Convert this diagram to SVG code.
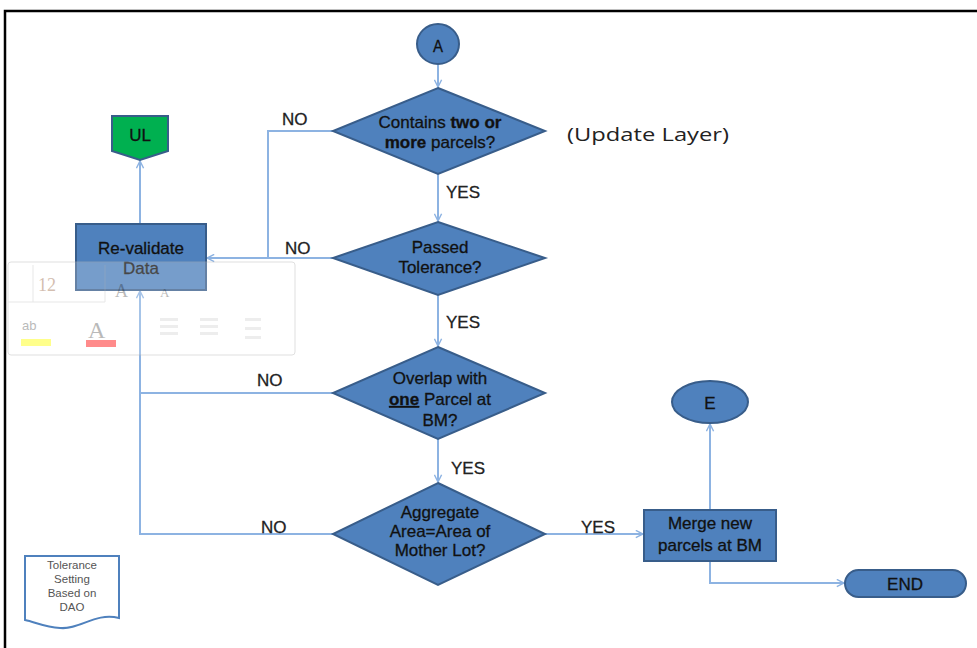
<svg xmlns="http://www.w3.org/2000/svg" width="977" height="648" viewBox="0 0 977 648">
<defs>
<marker id="arr" viewBox="0 0 10 10" refX="9" refY="5" markerWidth="9" markerHeight="9" markerUnits="userSpaceOnUse" orient="auto">
<path d="M1,1 L9,5 L1,9" fill="none" stroke="#8db3e2" stroke-width="1.6"/>
</marker>
<style>
.shape{fill:#4f81bd;stroke:#385d8a;stroke-width:2}
.t{font-family:"Liberation Sans",Arial,sans-serif;font-size:17px;fill:#111;stroke:#111;stroke-width:0.3;text-anchor:middle}
.lbl{font-family:"Liberation Sans",Arial,sans-serif;font-size:17px;fill:#222;stroke:#222;stroke-width:0.3}
.con{fill:none;stroke:#8db3e2;stroke-width:2}
.tb{fill:#d8d8d8}
.n{font-family:"Liberation Sans",Arial,sans-serif;font-size:11.5px;fill:#555;text-anchor:middle}
</style>
</defs>
<rect width="977" height="648" fill="#fff"/>
<path d="M5,648 V11 H977" fill="none" stroke="#000" stroke-width="2.5"/>

<g id="connectors">
<path class="con" d="M438,65 V87" marker-end="url(#arr)"/>
<path class="con" d="M438,174 V221" marker-end="url(#arr)"/>
<path class="con" d="M438,295 V346" marker-end="url(#arr)"/>
<path class="con" d="M438,439 V482" marker-end="url(#arr)"/>
<path class="con" d="M333,131 H268 V258"/>
<path class="con" d="M333,258 H207" marker-end="url(#arr)"/>
<path class="con" d="M140,223 V161" marker-end="url(#arr)"/>
<path class="con" d="M333,393 H140"/>
<path class="con" d="M333,534 H140 V291" marker-end="url(#arr)"/>
<path class="con" d="M545,534 H643" marker-end="url(#arr)"/>
<path class="con" d="M710,510 V424" marker-end="url(#arr)"/>
<path class="con" d="M710,561 V583 H844" marker-end="url(#arr)"/>
<text class="lbl" x="282" y="125">NO</text>
<text class="lbl" x="285" y="254">NO</text>
<text class="lbl" x="257" y="386">NO</text>
<text class="lbl" x="261" y="533">NO</text>
<text class="lbl" x="446" y="198">YES</text>
<text class="lbl" x="446" y="328">YES</text>
<text class="lbl" x="451" y="474">YES</text>
<text class="lbl" x="581" y="533">YES</text>
</g>

<g id="A">
<ellipse class="shape" cx="438" cy="44" rx="21" ry="20"/>
<text class="t" x="438" y="52" font-size="19" textLength="10" lengthAdjust="spacingAndGlyphs">A</text>
</g>

<g id="d1">
<polygon class="shape" points="438,88 545,131 438,174 333,131"/>
<text class="t" x="440" y="128">Contains <tspan font-weight="bold">two or</tspan></text>
<text class="t" x="440" y="148"><tspan font-weight="bold">more</tspan> parcels?</text>
</g>

<g id="d2">
<polygon class="shape" points="438,222 545,258 438,295 333,258"/>
<text class="t" x="440" y="253">Passed</text>
<text class="t" x="440" y="273">Tolerance?</text>
</g>

<g id="d3">
<polygon class="shape" points="438,347 545,393 438,439 333,393"/>
<text class="t" x="440" y="384">Overlap with</text>
<text class="t" x="440" y="405"><tspan font-weight="bold" text-decoration="underline">one</tspan> Parcel at</text>
<text class="t" x="440" y="426">BM?</text>
</g>

<g id="d4">
<polygon class="shape" points="438,483 545,534 438,585 333,534"/>
<text class="t" x="440" y="518" font-size="16" fill="#333" stroke="none">Aggregate</text>
<text class="t" x="440" y="537" font-size="16" fill="#333" stroke="none">Area=Area of</text>
<text class="t" x="440" y="556" font-size="16" fill="#333" stroke="none">Mother Lot?</text>
</g>

<g id="revalidate">
<rect class="shape" x="76" y="224" width="130" height="66"/>
<text class="t" x="141" y="254" font-size="18">Re-validate</text>
<text class="t" x="141" y="274" font-size="18">Data</text>
</g>

<g id="UL">
<polygon points="112,116 168,116 168,151 140,160 112,151" fill="#00b050" stroke="#385d8a" stroke-width="2"/>
<text class="t" x="140" y="141">UL</text>
</g>

<g id="merge">
<rect class="shape" x="644" y="510" width="132" height="51"/>
<text class="t" x="710" y="529">Merge new</text>
<text class="t" x="710" y="551">parcels at BM</text>
</g>

<g id="E">
<ellipse class="shape" cx="710" cy="402" rx="38" ry="21"/>
<text class="t" x="710" y="409">E</text>
</g>

<g id="END">
<rect class="shape" x="845" y="570" width="121" height="27" rx="13.5" ry="13.5"/>
<text class="t" x="905" y="590">END</text>
</g>

<g id="note">
<path d="M25,556 H119 V618 C95,612 80,630 60,628 C45,627 35,622 25,620 Z" fill="#fff" stroke="#4f81bd" stroke-width="2"/>
<text class="n" x="72" y="569">Tolerance</text>
<text class="n" x="72" y="583">Setting</text>
<text class="n" x="72" y="597">Based on</text>
<text class="n" x="72" y="611">DAO</text>
</g>

<text x="567" y="141" font-family="'Open Sans','Noto Sans',sans-serif" font-size="19" fill="#222" textLength="162" lengthAdjust="spacingAndGlyphs">(Update Layer)</text>

<g id="toolbar" opacity="0.45">
<rect x="8" y="262" width="287" height="93" rx="3" fill="#fff" fill-opacity="0.5" stroke="#bbb" stroke-width="1"/>
<line x1="33" y1="265" x2="33" y2="302" stroke="#ccc"/>
<line x1="105" y1="265" x2="105" y2="302" stroke="#ccc"/>
<line x1="8" y1="302" x2="105" y2="302" stroke="#ccc"/>
<text x="38" y="291" font-family="'Liberation Serif',serif" font-size="18" fill="#a07050">12</text>
<text x="115" y="297" font-family="'Liberation Serif',serif" font-size="18" fill="#666">A</text>
<text x="160" y="297" font-family="'Liberation Serif',serif" font-size="13" fill="#666">A</text>
<text x="22" y="330" font-family="'Liberation Sans',sans-serif" font-size="13" fill="#666">ab</text>
<rect x="21" y="339" width="30" height="7" fill="#ffff00"/>
<text x="88" y="338" font-family="'Liberation Serif',serif" font-size="24" fill="#666">A</text>
<rect x="86" y="340" width="30" height="7" fill="#ff0000"/>
<rect x="160" y="318" width="18" height="3" class="tb"/>
<rect x="160" y="325" width="18" height="3" class="tb"/>
<rect x="160" y="332" width="18" height="3" class="tb"/>
<rect x="200" y="318" width="18" height="3" class="tb"/>
<rect x="200" y="325" width="18" height="3" class="tb"/>
<rect x="200" y="332" width="18" height="3" class="tb"/>
<rect x="245" y="318" width="16" height="3" class="tb"/>
<rect x="245" y="327" width="16" height="3" class="tb"/>
<rect x="245" y="336" width="16" height="3" class="tb"/>
</g>
</svg>
